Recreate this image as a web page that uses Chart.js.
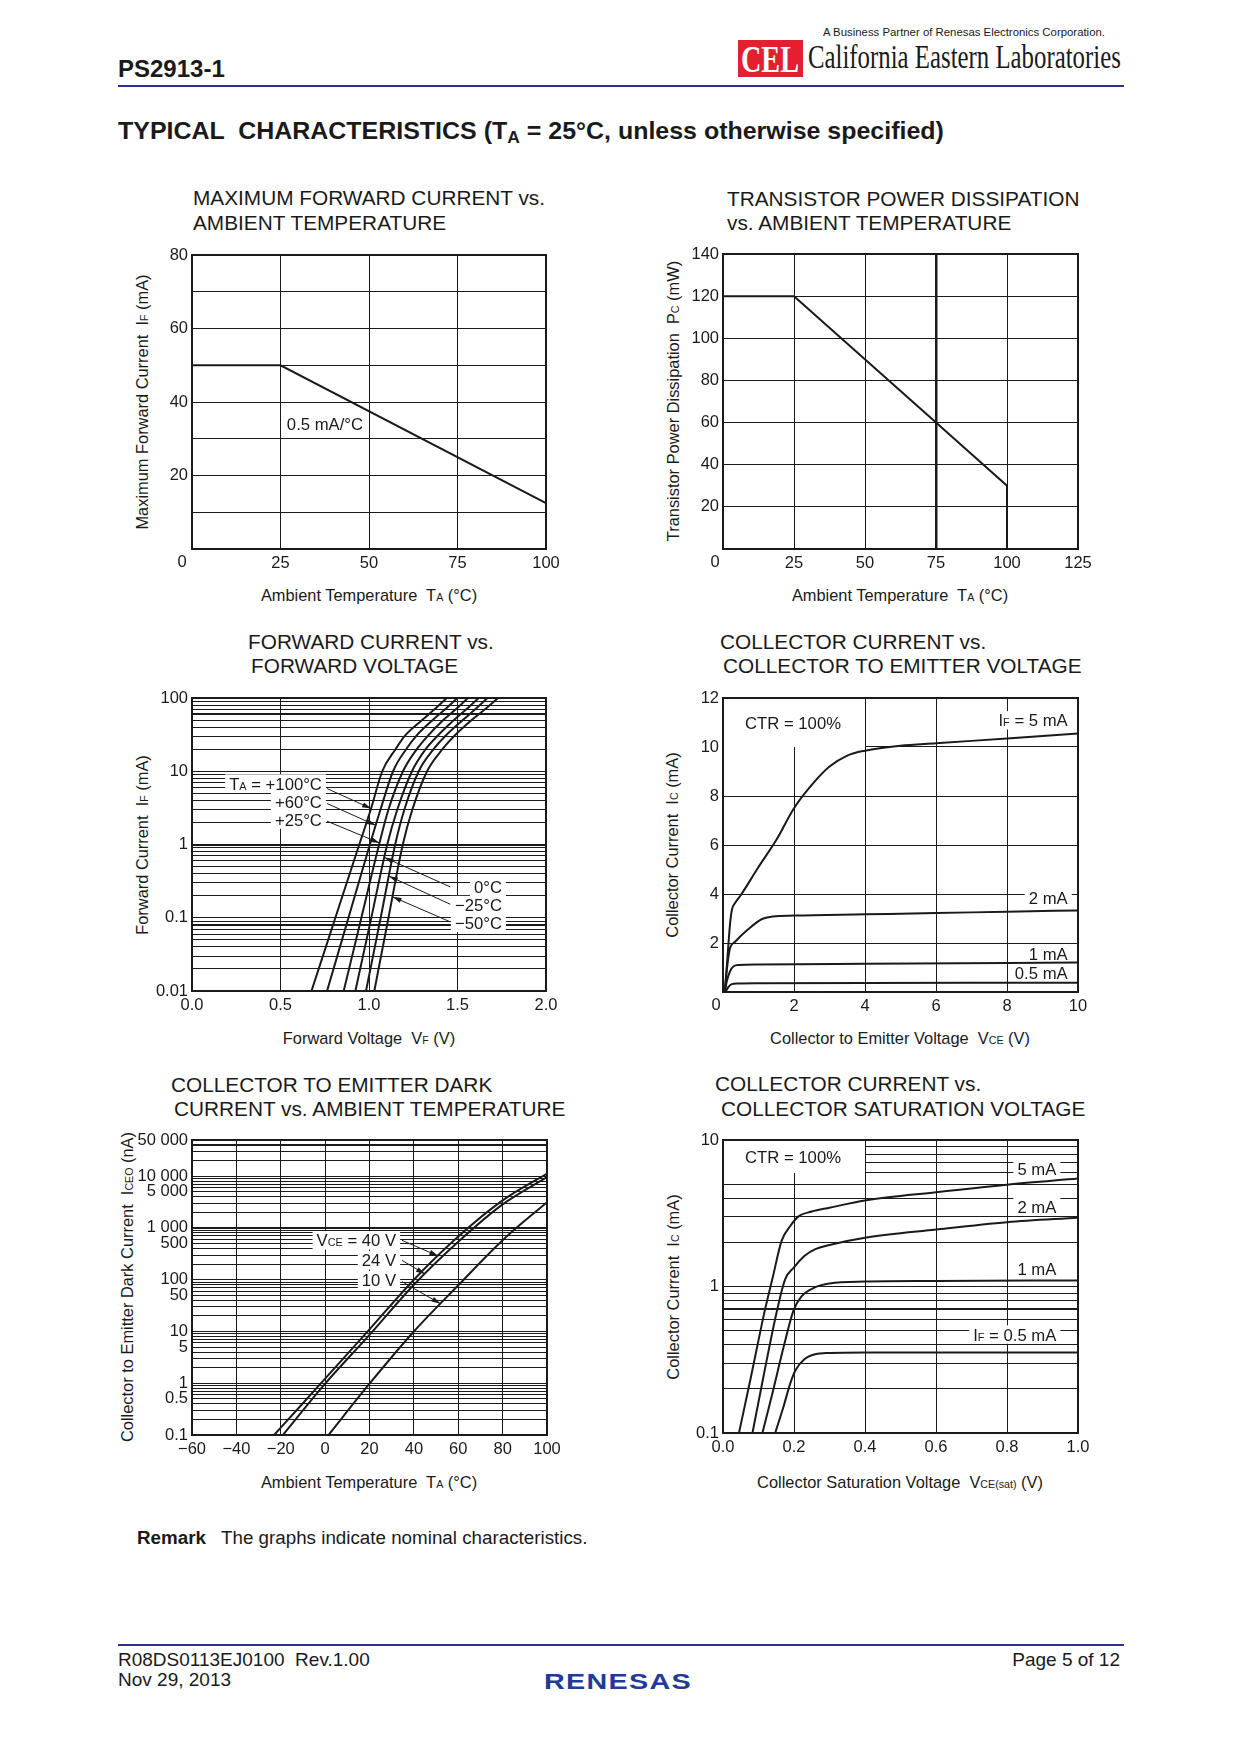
<!DOCTYPE html>
<html>
<head>
<meta charset="utf-8">
<title>PS2913-1 Typical Characteristics</title>
<script src="https://cdn.jsdelivr.net/npm/chart.js@4.4.1/dist/chart.umd.min.js"></script>
<style>
  html, body { margin: 0; padding: 0; background: #fff; }
  body { position: relative; width: 1240px; height: 1754px; overflow: hidden;
         font-family: "Liberation Sans", Arial, sans-serif; color: #1a1a1a; }
  .t { position: absolute; white-space: pre; line-height: 1; }
  .ttl { font-size: 20.8px; }
  .axt { font-size: 16.4px; transform: translate(-50%, -50%); }
  .axt.v { transform: translate(-50%, -50%) rotate(-90deg); }
  .s { font-size: 0.65em; }
  .rule { position: absolute; height: 2px; background: #2d2e8f; }
  canvas { position: absolute; }
</style>
</head>
<body>

<!-- header -->
<div class="t" style="left:118px; top:57px; font-size:24px; font-weight:bold;">PS2913-1</div>
<div class="t fit" data-w="282" style="left:823px; top:27px; font-size:11px;">A Business Partner of Renesas Electronics Corporation.</div>
<div style="position:absolute; left:738px; top:40px; width:65px; height:37px; background:#e3202f;"></div>
<div class="t fit" data-w="58" style="left:741px; top:41px; font-size:37px; font-family:'Liberation Serif',serif; font-weight:bold; color:#fff;">CEL</div>
<div class="t fit" data-w="313" style="left:808px; top:41px; font-size:33px; font-family:'Liberation Serif',serif;">California Eastern Laboratories</div>
<div class="rule" style="left:118px; top:85px; width:1006px;"></div>
<div class="t fit" data-w="826" style="left:118px; top:119px; font-size:24px; font-weight:bold;">TYPICAL  CHARACTERISTICS (T<span style="font-size:0.7em; position:relative; top:0.25em;">A</span> = 25°C, unless otherwise specified)</div>

<!-- chart titles -->
<div class="t ttl" style="left:193px; top:188px;">MAXIMUM FORWARD CURRENT vs.</div>
<div class="t ttl" style="left:193px; top:213px;">AMBIENT TEMPERATURE</div>
<div class="t ttl" style="left:727px; top:189px;">TRANSISTOR POWER DISSIPATION</div>
<div class="t ttl" style="left:727px; top:213px;">vs. AMBIENT TEMPERATURE</div>
<div class="t ttl" style="left:248px; top:632px;">FORWARD CURRENT vs.</div>
<div class="t ttl" style="left:251px; top:656px;">FORWARD VOLTAGE</div>
<div class="t ttl" style="left:720px; top:632px;">COLLECTOR CURRENT vs.</div>
<div class="t ttl" style="left:723px; top:656px;">COLLECTOR TO EMITTER VOLTAGE</div>
<div class="t ttl" style="left:171px; top:1075px;">COLLECTOR TO EMITTER DARK</div>
<div class="t ttl" style="left:174px; top:1099px;">CURRENT vs. AMBIENT TEMPERATURE</div>
<div class="t ttl" style="left:715px; top:1074px;">COLLECTOR CURRENT vs.</div>
<div class="t ttl" style="left:721px; top:1099px;">COLLECTOR SATURATION VOLTAGE</div>

<!-- axis titles -->
<div class="t axt" style="left:369px; top:595px;">Ambient Temperature  T<span class="s">A</span> (°C)</div>
<div class="t axt v" style="left:142px; top:402px;">Maximum Forward Current  I<span class="s">F</span> (mA)</div>
<div class="t axt" style="left:900px; top:595px;">Ambient Temperature  T<span class="s">A</span> (°C)</div>
<div class="t axt v" style="left:673px; top:401px;">Transistor Power Dissipation  P<span class="s">C</span> (mW)</div>
<div class="t axt" style="left:369px; top:1038px;">Forward Voltage  V<span class="s">F</span> (V)</div>
<div class="t axt v" style="left:142px; top:845px;">Forward Current  I<span class="s">F</span> (mA)</div>
<div class="t axt" style="left:900px; top:1038px;">Collector to Emitter Voltage  V<span class="s">CE</span> (V)</div>
<div class="t axt v" style="left:672px; top:845px;">Collector Current  I<span class="s">C</span> (mA)</div>
<div class="t axt" style="left:369px; top:1482px;">Ambient Temperature  T<span class="s">A</span> (°C)</div>
<div class="t axt v" style="left:127px; top:1287px;">Collector to Emitter Dark Current  I<span class="s">CEO</span> (nA)</div>
<div class="t axt" style="left:900px; top:1482px;">Collector Saturation Voltage  V<span class="s">CE(sat)</span> (V)</div>
<div class="t axt v" style="left:673px; top:1287px;">Collector Current  I<span class="s">C</span> (mA)</div>

<!-- remark + footer -->
<div class="t" style="left:137px; top:1529px; font-size:18.8px; font-weight:bold;">Remark</div>
<div class="t" style="left:221px; top:1529px; font-size:18.8px;">The graphs indicate nominal characteristics.</div>
<div class="rule" style="left:118px; top:1644px; width:1006px;"></div>
<div class="t" style="left:118px; top:1650px; font-size:19px;">R08DS0113EJ0100  Rev.1.00</div>
<div class="t" style="left:118px; top:1670px; font-size:19px;">Nov 29, 2013</div>
<div class="t" style="right:120px; top:1650px; font-size:19px;">Page 5 of 12</div>
<div class="t fit" data-w="148" style="left:544px; top:1671px; font-size:22px; font-weight:bold; color:#1f3b93; letter-spacing:1px;">RENESAS</div>

<script>
// ---- data ----

// maximum forward current vs ambient temperature
var ifTemp = [0, 25, 100, 100];
var ifMax = [50, 50, 12.5, 0];
var ifXTickValues = [25, 50, 75, 100];
var ifXTickLabels = ['25', '50', '75', '100'];
var ifYTickValues = [20, 40, 60, 80];
var ifYTickLabels = ['20', '40', '60', '80'];

// transistor power dissipation vs ambient temperature
var pcTemp = [0, 25, 75, 100, 100];
var pcPower = [120, 120, 60, 30, 0];
var pcXTickValues = [25, 50, 75, 100, 125];
var pcXTickLabels = ['25', '50', '75', '100', '125'];
var pcYTickValues = [20, 40, 60, 80, 100, 120, 140];
var pcYTickLabels = ['20', '40', '60', '80', '100', '120', '140'];

// forward current (mA) vs forward voltage (V), one curve per TA
var vfCurrent = [0.01, 0.1, 1, 3, 10, 20, 30, 50, 70, 100];
var vfAtP100 = [0.675, 0.81, 0.945, 1.01, 1.075, 1.15, 1.20, 1.30, 1.37, 1.44];
var vfAtP60 = [0.763, 0.884, 1.005, 1.065, 1.136, 1.21, 1.265, 1.36, 1.43, 1.50];
var vfAtP25 = [0.857, 0.957, 1.057, 1.11, 1.192, 1.27, 1.33, 1.42, 1.49, 1.56];
var vfAt0 = [0.923, 1.013, 1.103, 1.16, 1.243, 1.32, 1.385, 1.48, 1.55, 1.62];
var vfAtM25 = [0.983, 1.066, 1.148, 1.20, 1.281, 1.365, 1.43, 1.53, 1.60, 1.67];
var vfAtM50 = [1.030, 1.11, 1.191, 1.245, 1.328, 1.415, 1.48, 1.58, 1.655, 1.73];
var vfXTickValues = [0, 0.5, 1, 1.5, 2];
var vfXTickLabels = ['0.0', '0.5', '1.0', '1.5', '2.0'];
var vfYTickValues = [0.01, 0.1, 1, 10, 100];
var vfYTickLabels = ['0.01', '0.1', '1', '10', '100'];

// collector current vs collector to emitter voltage, CTR = 100%
var ctrVce5 = [0.05, 0.1, 0.15, 0.2, 0.25, 0.35, 0.5, 1, 1.5, 2, 2.5, 3, 3.5, 4, 5, 6, 8, 10];
var ctrIc5 = [0, 0.9, 1.9, 2.8, 3.35, 3.65, 3.95, 5.1, 6.2, 7.5, 8.45, 9.2, 9.65, 9.85, 10.05, 10.15, 10.35, 10.55];
var ctrVce2 = [0.05, 0.1, 0.15, 0.2, 0.34, 0.7, 1.1, 1.4, 2, 4, 6, 8, 10];
var ctrIc2 = [0, 0.8, 1.4, 1.8, 2.05, 2.55, 2.98, 3.08, 3.12, 3.17, 3.22, 3.28, 3.33];
var ctrVce1 = [0.05, 0.1, 0.2, 0.3, 0.45, 1, 4, 10];
var ctrIc1 = [0, 0.4, 0.85, 1.05, 1.1, 1.12, 1.15, 1.2];
var ctrVce05 = [0.07, 0.15, 0.25, 0.4, 1, 10];
var ctrIc05 = [0, 0.2, 0.32, 0.35, 0.36, 0.38];
var ctrXTickValues = [2, 4, 6, 8, 10];
var ctrXTickLabels = ['2', '4', '6', '8', '10'];
var ctrYTickValues = [2, 4, 6, 8, 10, 12];
var ctrYTickLabels = ['2', '4', '6', '8', '10', '12'];

// collector to emitter dark current (nA) vs ambient temperature
var iceoTemp40 = [-23, -10, 0, 20, 40, 60, 80, 100];
var iceo40 = [0.1, 0.41, 1.23, 11, 100, 680, 3400, 11200];
var iceoTemp24 = [-19, 0, 20, 40, 60, 80, 100];
var iceo24 = [0.1, 0.98, 8.6, 80, 540, 2850, 9600];
var iceoTemp10 = [1.5, 20, 40, 60, 80, 100];
var iceo10 = [0.1, 0.98, 10, 78, 580, 3150];
var iceoXTickValues = [-60, -40, -20, 0, 20, 40, 60, 80, 100];
var iceoXTickLabels = ['\u221260', '\u221240', '\u221220', '0', '20', '40', '60', '80', '100'];
var iceoYTickValues = [0.1, 0.5, 1, 5, 10, 50, 100, 500, 1000, 5000, 10000, 50000];
var iceoYTickLabels = ['0.1', '0.5', '1', '5', '10', '50', '100', '500', '1 000', '5 000', '10 000', '50 000'];

// collector current vs collector saturation voltage
var satV5 = [0.045, 0.08, 0.118, 0.14, 0.165, 0.19, 0.212, 0.25, 0.3, 0.4, 0.6, 0.8, 1.0];
var satI5 = [0.1, 0.25, 0.69, 1.15, 2.05, 2.6, 3.0, 3.25, 3.45, 3.86, 4.4, 4.95, 5.45];
var satV2 = [0.083, 0.115, 0.15, 0.175, 0.2, 0.23, 0.26, 0.3, 0.4, 0.6, 0.8, 1.0];
var satI2 = [0.1, 0.25, 0.65, 1.12, 1.35, 1.62, 1.8, 1.92, 2.15, 2.45, 2.75, 2.95];
var satV1 = [0.111, 0.14, 0.17, 0.198, 0.22, 0.26, 0.3, 0.4, 0.6, 1.0];
var satI1 = [0.1, 0.19, 0.38, 0.68, 0.85, 0.99, 1.05, 1.08, 1.09, 1.1];
var satV05 = [0.147, 0.17, 0.19, 0.205, 0.23, 0.26, 0.3, 0.4, 1.0];
var satI05 = [0.1, 0.15, 0.22, 0.27, 0.32, 0.345, 0.352, 0.355, 0.355];
var satXTickValues = [0, 0.2, 0.4, 0.6, 0.8, 1];
var satXTickLabels = ['0.0', '0.2', '0.4', '0.6', '0.8', '1.0'];
var satYTickValues = [0.1, 1, 10];
var satYTickLabels = ['0.1', '1', '10'];

// ---- layout ----
var INK = '#1a1a1a';
var FONT = '"Liberation Sans", Arial, sans-serif';
var TICK_FONT = { size: 16.5 };
var LABEL_SIZE = 16.7;
var PAD = { left: 80, top: 15, right: 28, bottom: 32 };
var PLOTS = {
	ifmax: { x: 192, y: 255, w: 354, h: 294 },
	pc:    { x: 723, y: 254, w: 355, h: 295 },
	vf:    { x: 192, y: 698, w: 354, h: 293 },
	ctr:   { x: 723, y: 698, w: 355, h: 294 },
	iceo:  { x: 192, y: 1140, w: 355, h: 295 },
	sat:   { x: 723, y: 1140, w: 355, h: 293 }
};

// annotations drawn on top of the grid (text, blank boxes, arrows)
var NOTES = {
	ifmax: {
		origin: { text: '0', dx: -10 },
		labels: [{ text: '0.5 mA/°C', x: 26.8, y: 34, align: 'left' }]
	},
	pc: { origin: { text: '0', dx: -8 } },
	vf: {
		boldLines: [0.08, 1, 60],
		labels: [
			{ text: 'T_{A} = +100°C', x: 0.734, y: 6.8, align: 'right', bg: true },
			{ text: '+60°C', x: 0.734, y: 3.8, align: 'right', bg: true },
			{ text: '+25°C', x: 0.734, y: 2.19, align: 'right', bg: true },
			{ text: '0°C', x: 1.751, y: 0.264, align: 'right', bg: true },
			{ text: '\u221225°C', x: 1.751, y: 0.149, align: 'right', bg: true },
			{ text: '\u221250°C', x: 1.751, y: 0.085, align: 'right', bg: true }
		],
		arrows: [
			{ x: 0.763, y: 5.8, series: 0, along: 'y', at: 3.1 },
			{ x: 0.763, y: 3.63, series: 1, along: 'y', at: 1.83 },
			{ x: 0.763, y: 2.08, series: 2, along: 'y', at: 1.05 },
			{ x: 1.459, y: 0.264, series: 3, along: 'y', at: 0.665 },
			{ x: 1.459, y: 0.153, series: 4, along: 'y', at: 0.37 },
			{ x: 1.459, y: 0.088, series: 5, along: 'y', at: 0.193 }
		]
	},
	ctr: {
		origin: { text: '0', dx: -7 },
		box: { x: 4, y: 10 },
		labels: [
			{ text: 'CTR = 100%', x: 0.62, y: 11.0, align: 'left' },
			{ text: 'I_{F} = 5 mA', x: 9.71, y: 11.09, align: 'right', bg: true },
			{ text: '2 mA', x: 9.71, y: 3.84, align: 'right', bg: true },
			{ text: '1 mA', x: 9.71, y: 1.57, align: 'right', bg: true },
			{ text: '0.5 mA', x: 9.71, y: 0.78, align: 'right', bg: true }
		]
	},
	iceo: {
		boldLines: [1000, 40000],
		labels: [
			{ text: 'V_{CE} = 40 V', x: 32, y: 577, align: 'right', bg: true },
			{ text: '24 V', x: 32, y: 237, align: 'right', bg: true },
			{ text: '10 V', x: 32, y: 98, align: 'right', bg: true }
		],
		arrows: [
			{ x: 34.6, y: 577, series: 0, along: 'x', at: 51 },
			{ x: 34.6, y: 237, series: 1, along: 'x', at: 45 },
			{ x: 34.6, y: 92, series: 2, along: 'x', at: 52 }
		]
	},
	sat: {
		boldLines: [0.7],
		box: { x: 0.4, y: 6 },
		labels: [
			{ text: 'CTR = 100%', x: 0.062, y: 7.7, align: 'left' },
			{ text: '5 mA', x: 0.939, y: 6.34, align: 'right', bg: true },
			{ text: '2 mA', x: 0.939, y: 3.51, align: 'right', bg: true },
			{ text: '1 mA', x: 0.939, y: 1.32, align: 'right', bg: true },
			{ text: 'I_{F} = 0.5 mA', x: 0.939, y: 0.47, align: 'right', bg: true }
		]
	}
};

function richParts(text)
{
	var parts = [], re = /_\{([^}]*)\}/g, last = 0, m;
	while ((m = re.exec(text)))
	{
		if (m.index > last) parts.push({ t: text.slice(last, m.index) });
		parts.push({ t: m[1], sub: true });
		last = re.lastIndex;
	}
	if (last < text.length) parts.push({ t: text.slice(last) });
	return parts;
}

function drawRich(ctx, text, x, y, align, size, bg)
{
	var parts = richParts(text);
	var big = size + 'px ' + FONT, small = (size * 0.65) + 'px ' + FONT;
	var w = 0;
	parts.forEach(function(p) { ctx.font = p.sub ? small : big; p.w = ctx.measureText(p.t).width; w += p.w; });
	var x0 = align === 'right' ? x - w : (align === 'center' ? x - w / 2 : x);
	if (bg)
	{
		ctx.fillStyle = '#fff';
		ctx.fillRect(x0 - 4, y - size * 0.55, w + 8, size * 1.1);
	}
	ctx.fillStyle = INK;
	ctx.textAlign = 'left';
	ctx.textBaseline = 'alphabetic';
	var base = y + size * 0.36;
	parts.forEach(function(p) { ctx.font = p.sub ? small : big; ctx.fillText(p.t, x0, base); x0 += p.w; });
}

// point on a drawn series where it crosses x (or y) = value
function pointOnSeries(chart, idx, along, value)
{
	var xs = chart.scales.x, ys = chart.scales.y;
	var pts = chart.data.datasets[idx].data;
	var sc = along === 'x' ? xs : ys;
	for (var i = 1; i < pts.length; i++)
	{
		var a = pts[i - 1], b = pts[i];
		var lo = Math.min(a[along], b[along]), hi = Math.max(a[along], b[along]);
		if (value >= lo && value <= hi)
		{
			var pa = sc.getPixelForValue(a[along]), pb = sc.getPixelForValue(b[along]);
			var t = pb === pa ? 0 : (sc.getPixelForValue(value) - pa) / (pb - pa);
			var ax = xs.getPixelForValue(a.x), ay = ys.getPixelForValue(a.y);
			var bx = xs.getPixelForValue(b.x), by = ys.getPixelForValue(b.y);
			return { x: ax + t * (bx - ax), y: ay + t * (by - ay) };
		}
	}
	return null;
}

function drawArrow(ctx, x0, y0, x1, y1)
{
	ctx.strokeStyle = INK;
	ctx.fillStyle = INK;
	ctx.lineWidth = 1;
	ctx.beginPath(); ctx.moveTo(x0, y0); ctx.lineTo(x1, y1); ctx.stroke();
	var a = Math.atan2(y1 - y0, x1 - x0), L = 9, W = 2.6;
	ctx.beginPath();
	ctx.moveTo(x1, y1);
	ctx.lineTo(x1 - L * Math.cos(a) + W * Math.sin(a), y1 - L * Math.sin(a) - W * Math.cos(a));
	ctx.lineTo(x1 - L * Math.cos(a) - W * Math.sin(a), y1 - L * Math.sin(a) + W * Math.cos(a));
	ctx.closePath();
	ctx.fill();
}

var pagePlugin = {
	id: 'page',
	beforeDatasetsDraw: function(chart)
	{
		var notes = NOTES[chart.canvas.id] || {};
		var ctx = chart.ctx, area = chart.chartArea, xs = chart.scales.x, ys = chart.scales.y;
		ctx.save();
		if (notes.box)
		{
			// blank corner behind "CTR = 100%"
			var bx = Math.round(xs.getPixelForValue(notes.box.x)), by = Math.round(ys.getPixelForValue(notes.box.y));
			ctx.fillStyle = '#fff';
			ctx.fillRect(area.left, area.top, bx - area.left, by - area.top);
		}
		(notes.labels || []).forEach(function(l)
		{
			drawRich(ctx, l.text, xs.getPixelForValue(l.x), ys.getPixelForValue(l.y), l.align, LABEL_SIZE, l.bg);
		});
		ctx.restore();
	},
	afterDatasetsDraw: function(chart)
	{
		var notes = NOTES[chart.canvas.id] || {};
		var ctx = chart.ctx, area = chart.chartArea, xs = chart.scales.x, ys = chart.scales.y;
		ctx.save();
		(notes.arrows || []).forEach(function(a)
		{
			var tip = pointOnSeries(chart, a.series, a.along, a.at);
			if (tip) drawArrow(ctx, xs.getPixelForValue(a.x), ys.getPixelForValue(a.y), tip.x, tip.y);
		});
		ctx.strokeStyle = INK;
		ctx.lineWidth = 2;
		ctx.strokeRect(area.left, area.top, area.right - area.left, area.bottom - area.top);
		if (notes.origin)
		{
			ctx.font = TICK_FONT.size + 'px ' + FONT;
			ctx.fillStyle = INK;
			ctx.textAlign = 'center';
			ctx.textBaseline = 'top';
			ctx.fillText(notes.origin.text, area.left + notes.origin.dx, area.bottom + 5);
		}
		ctx.restore();
	}
};

function tickText(values, labels)
{
	return function(v)
	{
		for (var i = 0; i < values.length; i++)
		{
			if (Math.abs(v - values[i]) <= Math.abs(values[i]) * 1e-6 + 1e-12) return labels[i];
		}
		return '';
	};
}

function logGrid(min, max)
{
	var out = [];
	for (var e = Math.floor(Math.log10(min)); e <= Math.ceil(Math.log10(max)); e++)
	{
		for (var m = 1; m <= 9; m++)
		{
			var v = parseFloat((m * Math.pow(10, e)).toPrecision(6));
			if (v >= min * 0.9999 && v <= max * 1.0001) out.push(v);
		}
	}
	return out;
}

function linearAxis(min, max, step, values, labels, pad, gridWidth)
{
	return {
		type: 'linear', min: min, max: max,
		ticks: { stepSize: step, autoSkip: false, maxRotation: 0, padding: pad, color: INK,
			font: TICK_FONT, callback: tickText(values, labels) },
		grid: { color: INK, lineWidth: gridWidth || 1, drawTicks: false },
		border: { display: false }
	};
}

function logAxis(min, max, values, labels, bold)
{
	var grid = logGrid(min, max);
	return {
		type: 'logarithmic', min: min, max: max,
		afterBuildTicks: function(scale) { scale.ticks = grid.map(function(v) { return { value: v }; }); },
		ticks: { autoSkip: false, padding: 4, color: INK, font: TICK_FONT, callback: tickText(values, labels) },
		grid: {
			color: INK, drawTicks: false,
			lineWidth: function(c)
			{
				var v = c.tick ? c.tick.value : null;
				for (var i = 0; i < bold.length; i++) if (Math.abs(v - bold[i]) < bold[i] * 1e-6) return 2;
				return 1;
			}
		},
		border: { display: false }
	};
}

function curve(xs, ys, smooth)
{
	return {
		data: xs.map(function(x, i) { return { x: x, y: ys[i] }; }),
		borderColor: INK, borderWidth: 2, pointRadius: 0, fill: false,
		tension: 0, cubicInterpolationMode: smooth ? 'monotone' : 'default'
	};
}

function makeChart(id, datasets, xAxis, yAxis)
{
	var plot = PLOTS[id];
	var canvas = document.createElement('canvas');
	canvas.id = id;
	canvas.width = plot.w + PAD.left + PAD.right;
	canvas.height = plot.h + PAD.top + PAD.bottom;
	canvas.style.left = (plot.x - PAD.left) + 'px';
	canvas.style.top = (plot.y - PAD.top) + 'px';
	document.body.appendChild(canvas);

	xAxis.afterFit = function(s) { s.height = PAD.bottom; };
	yAxis.afterFit = function(s) { s.width = PAD.left; };

	return new Chart(canvas, {
		type: 'line',
		data: { datasets: datasets },
		options: {
			responsive: false, animation: false, devicePixelRatio: 1,
			layout: { padding: { left: 0, top: PAD.top, right: PAD.right, bottom: 0 } },
			plugins: { legend: { display: false }, tooltip: { enabled: false } },
			scales: { x: xAxis, y: yAxis }
		},
		plugins: [pagePlugin]
	});
}

Chart.defaults.font.family = FONT;
Chart.defaults.color = INK;

makeChart('ifmax',
	[curve(ifTemp, ifMax, false)],
	linearAxis(0, 100, 25, ifXTickValues, ifXTickLabels, 5),
	linearAxis(0, 80, 10, ifYTickValues, ifYTickLabels, 4));

makeChart('pc',
	[curve(pcTemp, pcPower, false)],
	linearAxis(0, 125, 25, pcXTickValues, pcXTickLabels, 5,
		function(c) { return c.tick && c.tick.value === 75 ? 2.5 : 1; }),
	linearAxis(0, 140, 20, pcYTickValues, pcYTickLabels, 4));

makeChart('vf',
	[curve(vfAtP100, vfCurrent, true), curve(vfAtP60, vfCurrent, true), curve(vfAtP25, vfCurrent, true),
	 curve(vfAt0, vfCurrent, true), curve(vfAtM25, vfCurrent, true), curve(vfAtM50, vfCurrent, true)],
	linearAxis(0, 2, 0.5, vfXTickValues, vfXTickLabels, 5),
	logAxis(0.01, 100, vfYTickValues, vfYTickLabels, NOTES.vf.boldLines));

makeChart('ctr',
	[curve(ctrVce5, ctrIc5, true), curve(ctrVce2, ctrIc2, true), curve(ctrVce1, ctrIc1, true), curve(ctrVce05, ctrIc05, true)],
	linearAxis(0, 10, 2, ctrXTickValues, ctrXTickLabels, 5),
	linearAxis(0, 12, 2, ctrYTickValues, ctrYTickLabels, 4));

makeChart('iceo',
	[curve(iceoTemp40, iceo40, true), curve(iceoTemp24, iceo24, true), curve(iceoTemp10, iceo10, true)],
	linearAxis(-60, 100, 20, iceoXTickValues, iceoXTickLabels, 5),
	logAxis(0.1, 50000, iceoYTickValues, iceoYTickLabels, NOTES.iceo.boldLines));

makeChart('sat',
	[curve(satV5, satI5, true), curve(satV2, satI2, true), curve(satV1, satI1, true), curve(satV05, satI05, true)],
	linearAxis(0, 1, 0.2, satXTickValues, satXTickLabels, 5),
	logAxis(0.1, 10, satYTickValues, satYTickLabels, NOTES.sat.boldLines));

// squeeze the logo / heading texts to their measured widths
var fits = document.querySelectorAll('.fit');
for (var i = 0; i < fits.length; i++)
{
	var el = fits[i];
	var target = parseFloat(el.getAttribute('data-w'));
	var w = el.getBoundingClientRect().width;
	el.style.transformOrigin = 'left center';
	el.style.transform = 'scaleX(' + (target / w).toFixed(3) + ')';
}
</script>
</body>
</html>
